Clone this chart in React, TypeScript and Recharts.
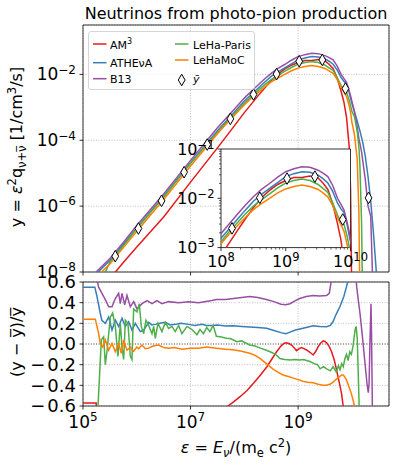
import React from 'react';
import {
  ComposedChart,
  Line,
  Scatter,
  XAxis,
  YAxis,
  CartesianGrid,
  ReferenceArea,
  ReferenceLine,
  Legend,
} from 'recharts';

const FONT = '"DejaVu Sans", "Liberation Sans", sans-serif';

const COLORS = {
  am3: '#e41a1c',
  athena: '#377eb8',
  b13: '#984ea3',
  paris: '#4daf4a',
  lehamoc: '#ff7f00',
};

// ---- top panel: log10(eps) grid and log10(y) for each code ----
const logEnergy = [5.0, 5.25, 5.5, 5.75, 6.0, 6.5, 7.0, 7.5, 7.75, 8.0, 8.125, 8.25, 8.375, 8.5, 8.625, 8.75, 8.875, 9.0, 9.125, 9.25, 9.375, 9.5, 9.575, 9.65, 9.725, 9.8, 9.85, 9.9, 9.95, 9.975, 10.0, 10.05, 10.1, 10.13, 10.15, 10.18, 10.2, 10.25, 10.3, 10.35, 10.4, 10.45, 10.5, 10.6, 10.69];

const am3Log = [-9.11, -8.61, -8.2, -7.71, -7.24, -6.33, -5.27, -4.23, -3.7, -3.16, -2.91, -2.66, -2.42, -2.19, -1.99, -1.84, -1.72, -1.64, -1.58, -1.58, -1.55, -1.59, -1.69, -1.82, -2.11, -2.52, -2.83, -3.3, -4.2, -5.5, -9, -14, -14, -14, -14, -14, -14, -14, -14, -14, -14, -14, -14, -14, -14];

const athenaLog = [-8.55, -8.05, -7.65, -7.16, -6.66, -5.7, -4.68, -3.71, -3.26, -2.81, -2.62, -2.43, -2.24, -2.06, -1.92, -1.8, -1.68, -1.56, -1.5, -1.46, -1.47, -1.53, -1.6, -1.69, -1.86, -2.1, -2.21, -2.29, -2.55, -2.72, -2.88, -3.15, -3.42, -3.6, -3.72, -3.92, -4.05, -4.5, -5.1, -5.85, -6.8, -7.9, -9.5, -14, -14];

const b13Log = [-8.49, -7.99, -7.59, -7.1, -6.59, -5.63, -4.61, -3.62, -3.17, -2.72, -2.52, -2.33, -2.14, -1.97, -1.82, -1.7, -1.57, -1.46, -1.4, -1.36, -1.37, -1.43, -1.49, -1.56, -1.74, -2.0, -2.12, -2.24, -2.5, -2.65, -2.82, -3.15, -3.6, -3.95, -4.1, -4.35, -4.6, -5.2, -6.0, -6.3, -9, -12, -14, -14, -14];

const parisLog = [-9.5, -8.6, -7.7, -7.2, -6.68, -5.72, -4.7, -3.75, -3.31, -2.88, -2.68, -2.5, -2.32, -2.16, -2.03, -1.91, -1.79, -1.69, -1.64, -1.61, -1.64, -1.72, -1.8, -1.88, -2.09, -2.34, -2.47, -2.53, -2.78, -2.95, -3.12, -3.3, -3.75, -4.2, -4.8, -6.5, -9, -14, -14, -14, -14, -14, -14, -14, -14];

const lehamocLog = [-8.65, -8.15, -7.76, -7.26, -6.76, -5.8, -4.78, -3.8, -3.35, -2.92, -2.73, -2.56, -2.39, -2.23, -2.11, -2.0, -1.89, -1.81, -1.76, -1.73, -1.76, -1.82, -1.89, -1.97, -2.15, -2.4, -2.53, -2.67, -2.95, -3.15, -3.45, -3.85, -4.6, -6.2, -9, -14, -14, -14, -14, -14, -14, -14, -14, -14, -14];

// mean markers (y-bar)
const meanLogEnergy = [5.6, 6.03, 6.46, 6.88, 7.31, 7.74, 8.17, 8.6, 9.02, 9.45, 9.88, 10.31];
const meanLogY = [-7.52, -6.68, -5.84, -4.97, -4.13, -3.35, -2.61, -1.99, -1.6, -1.56, -2.43, -5.75];

// ---- bottom panel: residuals (log10 eps, (y - ybar)/ybar) ----
const am3Residual = [[5.0, -0.57], [5.245, -0.57], [5.26, -0.8], [7.0, -0.69], [7.5, -0.645], [7.67, -0.61], [7.8, -0.56], [7.92, -0.51], [8.05, -0.45], [8.17, -0.38], [8.3, -0.3], [8.42, -0.22], [8.5, -0.155], [8.6, -0.075], [8.68, -0.02], [8.74, 0.008], [8.78, 0.012], [8.83, 0.005], [8.88, -0.01], [8.93, -0.04], [8.97, -0.064], [9.02, -0.045], [9.065, -0.035], [9.11, -0.045], [9.157, -0.058], [9.22, -0.08], [9.28, -0.106], [9.33, -0.07], [9.374, -0.025], [9.42, 0.01], [9.467, 0.03], [9.5, 0.025], [9.53, 0.012], [9.58, -0.025], [9.622, -0.075], [9.67, -0.15], [9.715, -0.25], [9.76, -0.36], [9.808, -0.48], [9.84, -0.61], [9.9, -0.85], [10.0, -1], [10.69, -1]];

const athenaResidual = [[5.0, 0.55], [5.22, 0.55], [5.26, 0.46], [5.32, 0.3], [5.35, 0.23], [5.415, 0.2], [5.477, 0.26], [5.539, 0.135], [5.601, 0.23], [5.663, 0.17], [5.725, 0.25], [5.787, 0.17], [5.849, 0.215], [5.911, 0.135], [5.973, 0.2], [6.066, 0.12], [6.128, 0.135], [6.221, 0.21], [6.28, 0.185], [6.344, 0.19], [6.43, 0.2], [6.53, 0.21], [6.62, 0.185], [6.716, 0.19], [6.82, 0.2], [6.964, 0.19], [7.08, 0.18], [7.212, 0.19], [7.3, 0.18], [7.398, 0.18], [7.5, 0.185], [7.65, 0.175], [7.794, 0.177], [7.95, 0.17], [8.1, 0.165], [8.25, 0.16], [8.414, 0.152], [8.55, 0.13], [8.68, 0.11], [8.773, 0.1], [8.85, 0.115], [8.95, 0.135], [9.034, 0.145], [9.15, 0.16], [9.281, 0.177], [9.4, 0.17], [9.529, 0.168], [9.6, 0.18], [9.653, 0.22], [9.7, 0.28], [9.777, 0.36], [9.85, 0.46], [9.9, 0.555], [9.95, 0.65], [10.0, 0.9], [10.69, 1.0]];

const b13Residual = [[5.0, 0.8], [5.25, 0.8], [5.27, 0.6], [5.291, 0.55], [5.353, 0.49], [5.415, 0.43], [5.477, 0.36], [5.539, 0.36], [5.601, 0.44], [5.663, 0.49], [5.694, 0.39], [5.725, 0.49], [5.775, 0.38], [5.818, 0.47], [5.88, 0.36], [5.942, 0.41], [6.004, 0.34], [6.097, 0.39], [6.19, 0.42], [6.283, 0.39], [6.375, 0.42], [6.468, 0.39], [6.592, 0.41], [6.778, 0.4], [6.964, 0.41], [7.15, 0.4], [7.398, 0.42], [7.48, 0.43], [7.65, 0.43], [7.8, 0.44], [7.95, 0.45], [8.1, 0.46], [8.25, 0.45], [8.41, 0.43], [8.55, 0.41], [8.68, 0.385], [8.77, 0.38], [8.85, 0.39], [8.95, 0.42], [9.03, 0.44], [9.15, 0.46], [9.28, 0.47], [9.4, 0.465], [9.53, 0.47], [9.58, 0.49], [9.62, 0.62], [9.7, 0.9], [10.0, 1.2], [10.06, 0.75], [10.09, 0.55], [10.12, 0.42], [10.15, 0.3], [10.2, 0.05], [10.25, -0.22], [10.28, -0.38], [10.305, -0.47], [10.32, -0.38], [10.335, 0.0], [10.355, 0.39], [10.365, 0.1], [10.385, -0.8], [10.69, -1]];

const parisResidual = [[5.0, -1], [5.25, -1], [5.279, -0.6], [5.341, 0.04], [5.384, 0.07], [5.415, -0.2], [5.446, -0.07], [5.508, 0.26], [5.551, 0.3], [5.601, 0.17], [5.65, -0.12], [5.694, 0.2], [5.725, -0.03], [5.756, -0.15], [5.787, 0.23], [5.836, 0.2], [5.88, -0.12], [5.91, -0.15], [5.942, 0.34], [6.004, 0.31], [6.047, 0.39], [6.084, 0.17], [6.128, 0.1], [6.171, 0.23], [6.221, 0.18], [6.283, 0.1], [6.314, 0.17], [6.344, 0.055], [6.394, 0.2], [6.468, 0.12], [6.53, 0.21], [6.592, 0.15], [6.654, 0.17], [6.716, 0.12], [6.778, 0.18], [6.84, 0.1], [6.933, 0.17], [7.026, 0.14], [7.119, 0.09], [7.175, 0.14], [7.24, 0.1], [7.3, 0.16], [7.36, 0.12], [7.42, 0.18], [7.48, 0.075], [7.55, 0.07], [7.67, 0.055], [7.75, 0.05], [7.86, 0.023], [7.95, 0.03], [8.1, -0.01], [8.2, -0.02], [8.3, -0.04], [8.41, -0.06], [8.5, -0.08], [8.58, -0.1], [8.66, -0.14], [8.75, -0.15], [8.85, -0.155], [8.95, -0.15], [9.03, -0.155], [9.1, -0.15], [9.22, -0.17], [9.3, -0.19], [9.36, -0.2], [9.41, -0.24], [9.47, -0.22], [9.53, -0.24], [9.6, -0.26], [9.65, -0.22], [9.71, -0.27], [9.75, -0.21], [9.78, -0.25], [9.81, -0.19], [9.84, -0.22], [9.87, -0.14], [9.9, -0.1], [9.93, -0.16], [9.96, -0.075], [9.99, -0.1], [10.02, -0.025], [10.06, 0.14], [10.08, 0.17], [10.1, 0.05], [10.12, -0.32], [10.14, -0.7], [10.69, -1]];

const lehamocResidual = [[5.0, 0.24], [5.229, 0.24], [5.291, 0.1], [5.322, 0.006], [5.365, -0.03], [5.415, 0.04], [5.477, -0.06], [5.539, 0.006], [5.601, -0.075], [5.663, 0.006], [5.712, -0.09], [5.756, 0.04], [5.818, -0.06], [5.88, -0.03], [5.942, -0.07], [6.0, -0.03], [6.035, -0.045], [6.097, -0.01], [6.16, -0.045], [6.221, -0.04], [6.3, -0.02], [6.406, -0.01], [6.5, -0.035], [6.592, -0.04], [6.7, -0.035], [6.84, -0.05], [7.0, -0.04], [7.15, -0.04], [7.3, -0.03], [7.48, -0.04], [7.65, -0.05], [7.79, -0.056], [7.95, -0.07], [8.1, -0.09], [8.2, -0.11], [8.29, -0.14], [8.41, -0.19], [8.54, -0.245], [8.63, -0.275], [8.72, -0.3], [8.82, -0.315], [8.91, -0.33], [9.0, -0.345], [9.09, -0.36], [9.18, -0.37], [9.28, -0.375], [9.37, -0.39], [9.46, -0.4], [9.53, -0.4], [9.59, -0.39], [9.65, -0.37], [9.71, -0.34], [9.76, -0.32], [9.81, -0.3], [9.84, -0.3], [9.87, -0.32], [9.9, -0.35], [9.95, -0.42], [9.99, -0.48], [10.03, -0.56], [10.07, -0.65], [10.12, -1], [10.69, -1]];

// ---- ticks ----
const xTickValues = [5, 7, 9];
const topYTickValues = [-8, -6, -4, -2];
const resYTickValues = [-0.6, -0.4, -0.2, 0, 0.2, 0.4, 0.6];
const resYTickLabels = ['\u22120.6', '\u22120.4', '\u22120.2', '0.0', '0.2', '0.4', '0.6'];
const insetXMajor = [8, 9, 10];
const insetYMajor = [-3, -2, -1];
const minorSubs = [2, 3, 4, 5, 6, 7, 8, 9];

const X_MIN = 5;
const X_MAX = 10.69;
const Y_TOP_MIN = -8;
const Y_TOP_MAX = -0.5;

const insetXTicks = [
  ...insetXMajor,
  ...[8, 9].flatMap((d) => minorSubs.map((k) => d + Math.log10(k))),
].sort((a, b) => a - b);
const insetYTicks = [
  ...insetYMajor,
  ...[-3, -2].flatMap((d) => minorSubs.map((k) => d + Math.log10(k))),
].sort((a, b) => a - b);

const toPoints = (ys: number[]) => logEnergy.map((x, i) => ({ x, y: ys[i] }));
const pairsToPoints = (pairs: number[][]) => pairs.map(([x, y]) => ({ x, y }));

const topSeries = [
  { key: 'am3', color: COLORS.am3, points: toPoints(am3Log) },
  { key: 'athena', color: COLORS.athena, points: toPoints(athenaLog) },
  { key: 'b13', color: COLORS.b13, points: toPoints(b13Log) },
  { key: 'paris', color: COLORS.paris, points: toPoints(parisLog) },
  { key: 'lehamoc', color: COLORS.lehamoc, points: toPoints(lehamocLog) },
];

const resSeries = [
  { key: 'am3', color: COLORS.am3, points: pairsToPoints(am3Residual) },
  { key: 'athena', color: COLORS.athena, points: pairsToPoints(athenaResidual) },
  { key: 'b13', color: COLORS.b13, points: pairsToPoints(b13Residual) },
  { key: 'paris', color: COLORS.paris, points: pairsToPoints(parisResidual) },
  { key: 'lehamoc', color: COLORS.lehamoc, points: pairsToPoints(lehamocResidual) },
];

const meanPoints = meanLogEnergy.map((x, i) => ({ x, y: meanLogY[i] }));

const fmtExp = (n: number) => (n < 0 ? '\u2212' + Math.abs(n) : String(n));
const isMajor = (v: number) => Math.abs(v - Math.round(v)) < 1e-6;

// ---- tick renderer factories (axis line position given in chart-local pixels) ----
const makeYTick = (axisX: number, kind: 'pow' | 'res' | 'insetPow') => (props: any) => {
  const y = props?.payload?.coordinate ?? props.y;
  const v = props?.payload?.value;
  const x = axisX;
  const major = kind === 'insetPow' ? isMajor(v) : true;
  const len = major ? 3.5 : 2;
  let label: React.ReactNode = null;
  if (major) {
    if (kind === 'res') {
      const idx = resYTickValues.findIndex((t) => Math.abs(t - v) < 1e-9);
      const text = resYTickLabels[idx] ?? '';
      const negative = text.startsWith('\u2212');
      const body = negative ? text.slice(1) : text;
      label = (
        <text x={x - 7} y={y + 6.3} textAnchor="end" fontSize={18} fontFamily={FONT} fill="#000">
          {negative && <tspan>{'\u2212'}</tspan>}
          <tspan dx={negative ? 2 : 0}>{body}</tspan>
        </text>
      );
    } else {
      const big = kind === 'pow';
      label = (
        <text x={x - (big ? 7 : 6.5)} y={y + (big ? 5.8 : 5.5)} textAnchor="end" fontSize={big ? 17 : 16} fontFamily={FONT} fill="#000">
          <tspan>10</tspan>
          <tspan dy={big ? -6.5 : -6} fontSize={big ? 12 : 11.5}>{fmtExp(Math.round(v))}</tspan>
        </text>
      );
    }
  }
  return (
    <g>
      <line x1={x - len} y1={y} x2={x} y2={y} stroke="#000" strokeWidth={major ? 0.8 : 0.6} />
      {label}
    </g>
  );
};

const makeXTick = (axisY: number, kind: 'mark' | 'pow' | 'insetPow') => (props: any) => {
  const x = props?.payload?.coordinate ?? props.x;
  const v = props?.payload?.value;
  const y = axisY;
  const major = kind === 'insetPow' ? isMajor(v) : true;
  const len = major ? 3.5 : 2;
  const big = kind === 'pow';
  return (
    <g>
      <line x1={x} y1={y} x2={x} y2={y + len} stroke="#000" strokeWidth={major ? 0.8 : 0.6} />
      {kind !== 'mark' && major && (
        <text x={x} y={y + (big ? 21.5 : 19.5)} textAnchor="middle" fontSize={big ? 17 : 16} fontFamily={FONT} fill="#000">
          <tspan>10</tspan>
          <tspan dy={big ? -6.5 : -6} fontSize={big ? 12 : 11.5}>{fmtExp(Math.round(v))}</tspan>
        </text>
      )}
    </g>
  );
};

// chart-local axis positions
const TOP_AXIS_X = 83;
const TOP_AXIS_Y = 272;
const RES_TOP_MARGIN = 20;
const RES_AXIS_Y = RES_TOP_MARGIN + 124;
const INSET_TOP_MARGIN = 29;
const INSET_AXIS_X = 51;
const INSET_AXIS_Y = INSET_TOP_MARGIN + 98.6;

const renderTopYTick = makeYTick(TOP_AXIS_X, 'pow');
const renderTopXTick = makeXTick(TOP_AXIS_Y, 'mark');
const renderResYTick = makeYTick(TOP_AXIS_X, 'res');
const renderResXTick = makeXTick(RES_AXIS_Y, 'pow');
const renderInsetYTick = makeYTick(INSET_AXIS_X, 'insetPow');
const renderInsetXTick = makeXTick(INSET_AXIS_Y, 'insetPow');

const diamondPath = (cx: number, cy: number) =>
  `M${cx},${cy - 5.8}L${cx + 3.4},${cy}L${cx},${cy + 5.8}L${cx - 3.4},${cy}Z`;

const renderDiamond = (props: any) => {
  const { cx, cy } = props;
  if (cx == null || cy == null || isNaN(cx) || isNaN(cy)) return <g />;
  return <path d={diamondPath(cx, cy)} fill="#fff" stroke="#000" strokeWidth={1} />;
};

const renderLegend = () => (
  <svg width={396} height={100} style={{ position: 'absolute', left: 0, top: 0 }}>
    <rect x={88.5} y={31.5} width={166} height={58} rx={2.5} fill="#fff" fillOpacity={0.8} stroke="#cccccc" strokeWidth={0.8} />
    <g fontFamily={FONT} fontSize={11} fill="#000">
      <line x1={93} x2={106.5} y1={44} y2={44} stroke={COLORS.am3} strokeWidth={1.5} />
      <text x={110} y={48.5}>
        <tspan>AM</tspan>
        <tspan dy={-4.5} fontSize={8}>3</tspan>
      </text>
      <line x1={93} x2={106.5} y1={62.7} y2={62.7} stroke={COLORS.athena} strokeWidth={1.5} />
      <text x={110} y={67}>ATHEνA</text>
      <line x1={93} x2={106.5} y1={78.7} y2={78.7} stroke={COLORS.b13} strokeWidth={1.5} />
      <text x={110} y={83}>B13</text>

      <line x1={175} x2={188.5} y1={44} y2={44} stroke={COLORS.paris} strokeWidth={1.5} />
      <text x={193} y={48.5}>LeHa-Paris</text>
      <line x1={175} x2={188.5} y1={60} y2={60} stroke={COLORS.lehamoc} strokeWidth={1.5} />
      <text x={193} y={64}>LeHaMoC</text>
      <path d={diamondPath(181.7, 80)} fill="#fff" stroke="#000" strokeWidth={1} />
      <text x={193} y={83} fontStyle="italic">ȳ</text>
    </g>
  </svg>
);

const axisCommon = {
  type: 'number' as const,
  allowDataOverflow: true,
  tickSize: 0,
  tickMargin: 0,
  axisLine: false,
  tickLine: false,
  interval: 0 as const,
};

export default function App() {
  return (
    <div style={{ position: 'absolute', left: 0, top: 0, width: 396, height: 467, background: '#fff', fontFamily: FONT }}>
      {/* main (top) panel */}
      <div style={{ position: 'absolute', left: 0, top: 0 }}>
        <ComposedChart width={396} height={300} margin={{ top: 25, right: 7, bottom: 8, left: 53 }}>
          <CartesianGrid stroke="#b0b0b0" strokeWidth={0.8} strokeDasharray="1 1.6" />
          <XAxis {...axisCommon} dataKey="x" domain={[X_MIN, X_MAX]} ticks={xTickValues} height={20} tick={renderTopXTick} />
          <YAxis {...axisCommon} dataKey="y" domain={[Y_TOP_MIN, Y_TOP_MAX]} ticks={topYTickValues} width={30} tick={renderTopYTick} />
          {topSeries.map((s) => (
            <Line
              key={s.key}
              data={s.points}
              dataKey="y"
              type="linear"
              stroke={s.color}
              strokeWidth={1.5}
              dot={false}
              activeDot={false}
              isAnimationActive={false}
            />
          ))}
          <Scatter data={meanPoints} dataKey="y" shape={renderDiamond} isAnimationActive={false} />
          <ReferenceArea x1={X_MIN} x2={X_MAX} y1={Y_TOP_MIN} y2={Y_TOP_MAX} fill="none" stroke="#000" strokeWidth={0.8} />
          <Legend
            content={renderLegend}
            layout="vertical"
            align="center"
            verticalAlign="middle"
            wrapperStyle={{ left: 0, top: 0, width: 396, height: 100 }}
          />
        </ComposedChart>
      </div>

      {/* residual (bottom) panel */}
      <div style={{ position: 'absolute', left: 0, top: 282 - RES_TOP_MARGIN }}>
        <ComposedChart width={396} height={185 + RES_TOP_MARGIN} margin={{ top: RES_TOP_MARGIN, right: 7, bottom: 41, left: 53 }}>
          <CartesianGrid stroke="#b0b0b0" strokeWidth={0.8} strokeDasharray="1 1.6" />
          <XAxis {...axisCommon} dataKey="x" domain={[X_MIN, X_MAX]} ticks={xTickValues} height={20} tick={renderResXTick} />
          <YAxis {...axisCommon} dataKey="y" domain={[-0.6, 0.6]} ticks={resYTickValues} width={30} tick={renderResYTick} />
          <ReferenceLine y={0} stroke="#444" strokeWidth={0.8} strokeDasharray="1 1.6" />
          {resSeries.map((s) => (
            <Line
              key={s.key}
              data={s.points}
              dataKey="y"
              type="linear"
              stroke={s.color}
              strokeWidth={1.5}
              dot={false}
              activeDot={false}
              isAnimationActive={false}
            />
          ))}
          <ReferenceArea x1={X_MIN} x2={X_MAX} y1={-0.6} y2={0.6} fill="none" stroke="#000" strokeWidth={0.8} />
        </ComposedChart>
      </div>

      {/* inset background */}
      <div style={{ position: 'absolute', left: 221, top: 149, width: 129.5, height: 98.6, background: '#fff' }} />

      {/* inset */}
      <div style={{ position: 'absolute', left: 170, top: 149 - INSET_TOP_MARGIN }}>
        <ComposedChart width={200} height={126 + INSET_TOP_MARGIN} margin={{ top: INSET_TOP_MARGIN, right: 19.5, bottom: 7.4, left: 21 }}>
          <XAxis {...axisCommon} dataKey="x" domain={[8, 10]} ticks={insetXTicks} height={20} tick={renderInsetXTick} />
          <YAxis {...axisCommon} dataKey="y" domain={[-3, -1]} ticks={insetYTicks} width={30} tick={renderInsetYTick} />
          {topSeries.map((s) => (
            <Line
              key={s.key}
              data={s.points}
              dataKey="y"
              type="linear"
              stroke={s.color}
              strokeWidth={1.5}
              dot={false}
              activeDot={false}
              isAnimationActive={false}
            />
          ))}
          <Scatter data={meanPoints} dataKey="y" shape={renderDiamond} isAnimationActive={false} />
          <ReferenceArea x1={8} x2={10} y1={-3} y2={-1} fill="none" stroke="#000" strokeWidth={0.8} />
        </ComposedChart>
      </div>

      {/* titles and axis labels */}
      <svg width={396} height={467} style={{ position: 'absolute', left: 0, top: 0, pointerEvents: 'none' }}>
        <g fontFamily={FONT} fill="#000" style={{ whiteSpace: 'pre' }}>
          <text x={236} y={19} textAnchor="middle" fontSize={16}>
            Neutrinos from photo-pion production
          </text>
          <text transform="translate(22,147) rotate(-90)" textAnchor="middle" fontSize={16}>
            <tspan>y = </tspan>
            <tspan fontStyle="italic">ε</tspan>
            <tspan dy={-6} fontSize={11.5}>2</tspan>
            <tspan dy={6}>q</tspan>
            <tspan dy={4} fontSize={11.5}>ν+ν̅</tspan>
            <tspan dy={-4}> [1/cm</tspan>
            <tspan dy={-6} fontSize={11.5}>3</tspan>
            <tspan dy={6}>/s]</tspan>
          </text>
          <text transform="translate(22,342) rotate(-90)" textAnchor="middle" fontSize={16}>
            <tspan>(y − y̅)/y̅</tspan>
          </text>
          <text x={236} y={453} textAnchor="middle" fontSize={16}>
            <tspan fontStyle="italic">ε</tspan>
            <tspan> = </tspan>
            <tspan fontStyle="italic">E</tspan>
            <tspan dy={4} fontSize={11.5} fontStyle="italic">ν</tspan>
            <tspan dy={-4}>/(m</tspan>
            <tspan dy={4} fontSize={11.5}>e</tspan>
            <tspan dy={-4}> c</tspan>
            <tspan dy={-6} fontSize={11.5}>2</tspan>
            <tspan dy={6}>)</tspan>
          </text>
        </g>
      </svg>
    </div>
  );
}
